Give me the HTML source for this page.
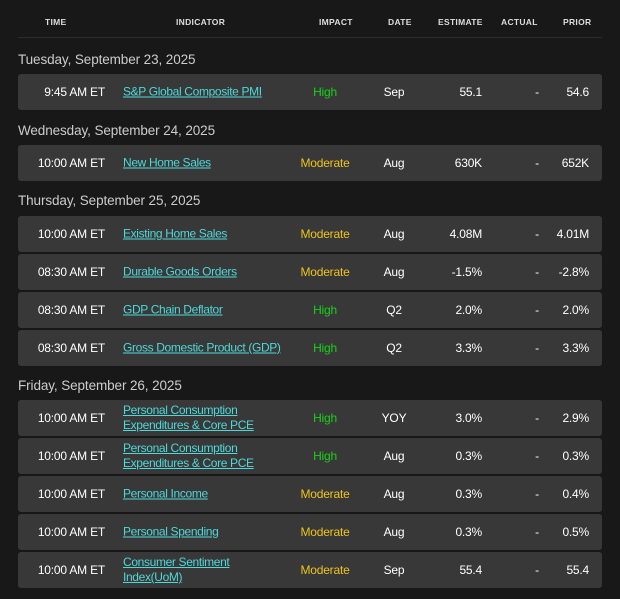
<!DOCTYPE html>
<html><head><style>
body{margin:0;width:620px;height:599px;background:#181818;font-family:"Liberation Sans",sans-serif;position:relative;overflow:hidden;color:#fff}
.h{position:absolute;top:17px;font-size:8.5px;font-weight:bold;color:#ddd;letter-spacing:.3px}
.line{position:absolute;left:18px;right:18px;top:37px;height:1px;background:#2c2c2c}
.d{position:absolute;left:18px;font-size:13.5px;color:#ccc;letter-spacing:-.1px}
.r{position:absolute;left:18px;width:584px;height:36px;background:#383838;border-radius:3px;font-size:12px;letter-spacing:-.2px}
.r span{position:absolute;top:50%;transform:translateY(-50%);white-space:nowrap}
.t{right:497px}
.i{left:105px;color:#4fd8d8;text-decoration:underline;line-height:15px;letter-spacing:-.35px}
.im{left:307px;width:0;display:flex;justify-content:center}
.im b{font-weight:normal}
.hi{color:#19d019}.mo{color:#f0c419}
.dt{left:376px;width:0;display:flex;justify-content:center}
.e{right:120px}.a{left:519px;width:0;display:flex;justify-content:center}.p{right:13px}
</style></head><body>
<div class="h" style="left:45px">TIME</div>
<div class="h" style="left:176px">INDICATOR</div>
<div class="h" style="left:319px">IMPACT</div>
<div class="h" style="left:388px">DATE</div>
<div class="h" style="left:438px">ESTIMATE</div>
<div class="h" style="left:501px">ACTUAL</div>
<div class="h" style="left:563px">PRIOR</div>
<div class="line"></div>

<div class="d" style="top:52px">Tuesday, September 23, 2025</div>
<div class="r" style="top:74px"><span class="t">9:45 AM ET</span><span class="i">S&amp;P Global Composite PMI</span><span class="im"><b class="hi">High</b></span><span class="dt">Sep</span><span class="e">55.1</span><span class="a">-</span><span class="p">54.6</span></div>

<div class="d" style="top:123px">Wednesday, September 24, 2025</div>
<div class="r" style="top:145px"><span class="t">10:00 AM ET</span><span class="i">New Home Sales</span><span class="im"><b class="mo">Moderate</b></span><span class="dt">Aug</span><span class="e">630K</span><span class="a">-</span><span class="p">652K</span></div>

<div class="d" style="top:193px">Thursday, September 25, 2025</div>
<div class="r" style="top:216px"><span class="t">10:00 AM ET</span><span class="i">Existing Home Sales</span><span class="im"><b class="mo">Moderate</b></span><span class="dt">Aug</span><span class="e">4.08M</span><span class="a">-</span><span class="p">4.01M</span></div>
<div class="r" style="top:254px"><span class="t">08:30 AM ET</span><span class="i">Durable Goods Orders</span><span class="im"><b class="mo">Moderate</b></span><span class="dt">Aug</span><span class="e">-1.5%</span><span class="a">-</span><span class="p">-2.8%</span></div>
<div class="r" style="top:292px"><span class="t">08:30 AM ET</span><span class="i">GDP Chain Deflator</span><span class="im"><b class="hi">High</b></span><span class="dt">Q2</span><span class="e">2.0%</span><span class="a">-</span><span class="p">2.0%</span></div>
<div class="r" style="top:330px"><span class="t">08:30 AM ET</span><span class="i">Gross Domestic Product (GDP)</span><span class="im"><b class="hi">High</b></span><span class="dt">Q2</span><span class="e">3.3%</span><span class="a">-</span><span class="p">3.3%</span></div>

<div class="d" style="top:378px">Friday, September 26, 2025</div>
<div class="r" style="top:400px"><span class="t">10:00 AM ET</span><span class="i">Personal Consumption<br>Expenditures &amp; Core PCE</span><span class="im"><b class="hi">High</b></span><span class="dt">YOY</span><span class="e">3.0%</span><span class="a">-</span><span class="p">2.9%</span></div>
<div class="r" style="top:438px"><span class="t">10:00 AM ET</span><span class="i">Personal Consumption<br>Expenditures &amp; Core PCE</span><span class="im"><b class="hi">High</b></span><span class="dt">Aug</span><span class="e">0.3%</span><span class="a">-</span><span class="p">0.3%</span></div>
<div class="r" style="top:476px"><span class="t">10:00 AM ET</span><span class="i">Personal Income</span><span class="im"><b class="mo">Moderate</b></span><span class="dt">Aug</span><span class="e">0.3%</span><span class="a">-</span><span class="p">0.4%</span></div>
<div class="r" style="top:514px"><span class="t">10:00 AM ET</span><span class="i">Personal Spending</span><span class="im"><b class="mo">Moderate</b></span><span class="dt">Aug</span><span class="e">0.3%</span><span class="a">-</span><span class="p">0.5%</span></div>
<div class="r" style="top:552px"><span class="t">10:00 AM ET</span><span class="i">Consumer Sentiment<br>Index(UoM)</span><span class="im"><b class="mo">Moderate</b></span><span class="dt">Sep</span><span class="e">55.4</span><span class="a">-</span><span class="p">55.4</span></div>
</body></html>
